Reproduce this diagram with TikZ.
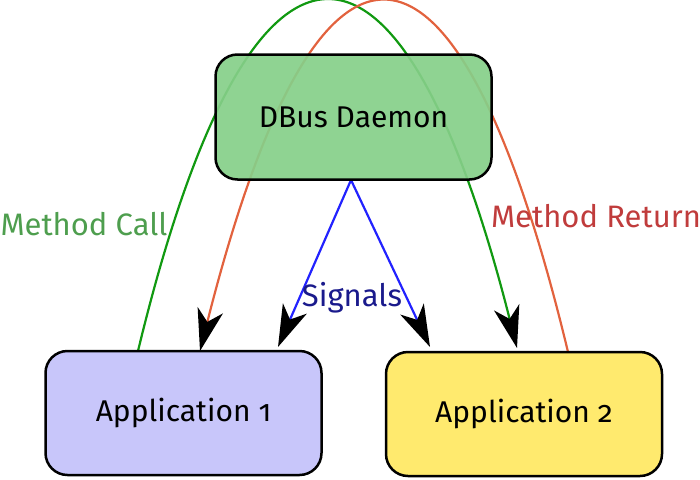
\documentclass[tikz,border=0pt]{standalone}
\usepackage{fontspec}
\setmainfont{Fira Sans}[Numbers=OldStyle]
\usetikzlibrary{arrows.meta}
\pgfdeclarelayer{bg}
\pgfsetlayers{bg,main}
\definecolor{dbusfill}{HTML}{86CF89}
\definecolor{appone}{HTML}{C8C6FA}
\definecolor{apptwo}{HTML}{FFEA6E}
\definecolor{callgreen}{HTML}{119911}
\definecolor{retorange}{HTML}{E2623E}
\definecolor{sigblue}{HTML}{2222FF}
\definecolor{calltext}{HTML}{4E9E4E}
\definecolor{rettext}{HTML}{C03C3C}
\definecolor{sigtext}{HTML}{1A1A8C}
\tikzset{
  box/.style={draw=black, line width=2.5pt, rounded corners=22pt, font=\fontsize{30}{34}\selectfont},
  lbl/.style={font=\fontsize{31}{35}\selectfont, inner sep=0pt},
  tip/.style={-{Stealth[length=42pt,width=26pt,inset=12pt,black]}},
  conn/.style={line width=2.2pt}
}
\begin{document}
\begin{tikzpicture}[x=1pt,y=-1pt]
\useasboundingbox (0,0) rectangle (700,479);
\node[box, fill=dbusfill, fill opacity=0.92, text opacity=1, minimum width=276pt, minimum height=125pt] (dbus) at (353.5,117) {DBus Daemon};
\node[box, fill=appone, minimum width=276pt, minimum height=124pt] (app1) at (183.5,413) {Application 1};
\node[box, fill=apptwo, minimum width=276pt, minimum height=124pt] (app2) at (524,414) {Application 2};
\node[lbl, text=calltext] (call) at (84,224) {Method Call};
\node[lbl, text=rettext] (ret) at (596,216) {Method Return};
\node[lbl, text=sigtext] (sig) at (352,298) {Signals};
\coordinate (gs) at (138,351);
\coordinate (ge) at (517,348);
\coordinate (os) at (568,352);
\coordinate (oe) at (200,351);
\coordinate (bs) at (351,180);
\coordinate (b1) at (278,347);
\coordinate (b2) at (430,347);
\begin{pgfonlayer}{bg}
\draw[conn, callgreen, tip] (gs) .. controls (250,-113) and (400,-113) .. (ge);
\draw[conn, retorange, tip] (os) .. controls (456,-113) and (317,-113) .. (oe);
\draw[conn, sigblue, tip] (bs) -- (b1);
\draw[conn, sigblue, tip] (bs) -- (b2);
\end{pgfonlayer}
\end{tikzpicture}
\end{document}
